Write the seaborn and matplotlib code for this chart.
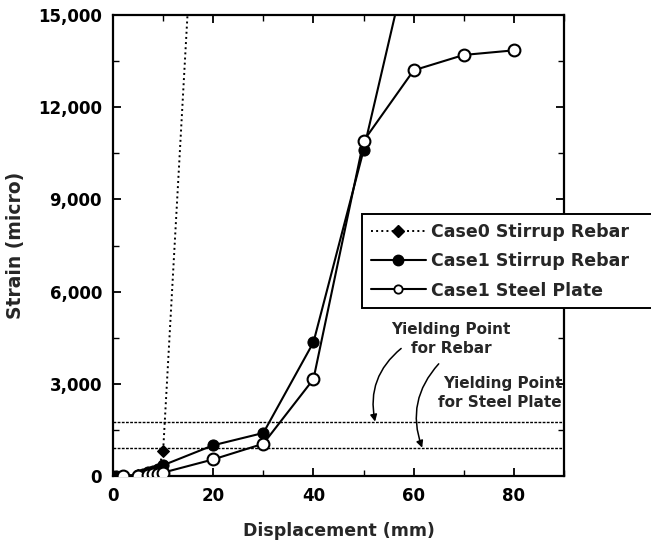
import matplotlib
matplotlib.use("Agg")
import matplotlib.pyplot as plt
import seaborn as sns
import pandas as pd
from matplotlib.ticker import FuncFormatter, MultipleLocator
from matplotlib.lines import Line2D

# ---- data ----
case0_x = [0, 5, 9, 10, 20]
case0_y = [0, 30, 150, 800, 30000]

case1_rebar_x = [0.5, 2, 5, 6, 7, 8, 9, 10, 20, 30, 40, 50, 60]
case1_rebar_y = [0, 10, 40, 80, 120, 170, 230, 350, 1000, 1400, 4350, 10600, 17600]

case1_plate_x = [2, 5, 7, 8, 9, 10, 20, 30, 40, 50, 60, 70, 80]
case1_plate_y = [0, 10, 30, 50, 70, 110, 540, 1050, 3150, 10900, 13200, 13700, 13850]

yield_rebar = 1750
yield_plate = 900

labels = ["Case0 Stirrup Rebar", "Case1 Stirrup Rebar", "Case1 Steel Plate"]

sns.set_style("ticks")
plt.rcParams["font.family"] = ["DejaVu Sans"]
plt.rcParams["font.weight"] = "bold"

fig = plt.figure(figsize=(6.51, 5.42), dpi=100)
ax = fig.add_axes([113/651, 1-476/542, (564-113)/651, (476-15)/542])

df0 = pd.DataFrame({"x": case0_x, "y": case0_y})
df1 = pd.DataFrame({"x": case1_rebar_x, "y": case1_rebar_y})
df2 = pd.DataFrame({"x": case1_plate_x, "y": case1_plate_y})

sns.lineplot(data=df0, x="x", y="y", ax=ax, sort=False, color="black",
             linestyle=":", linewidth=1.4, marker="D", markersize=6.5,
             markerfacecolor="black", markeredgecolor="black", zorder=3)
sns.lineplot(data=df1, x="x", y="y", ax=ax, sort=False, color="black",
             linestyle="-", linewidth=1.5, marker="o", markersize=8,
             markerfacecolor="black", markeredgecolor="black", zorder=4)
sns.lineplot(data=df2, x="x", y="y", ax=ax, sort=False, color="black",
             linestyle="-", linewidth=1.5, marker="o", markersize=8.5,
             markerfacecolor="white", markeredgecolor="black",
             markeredgewidth=1.5, zorder=5)

ax.axhline(yield_rebar, color="black", linestyle=(0, (2, 1)), linewidth=1.0, zorder=2)
ax.axhline(yield_plate, color="black", linestyle=(0, (2, 1)), linewidth=1.0, zorder=2)

ax.set_xlim(0, 90)
ax.set_ylim(0, 15000)
ax.xaxis.set_major_locator(MultipleLocator(20))
ax.xaxis.set_minor_locator(MultipleLocator(10))
ax.yaxis.set_major_locator(MultipleLocator(3000))
ax.yaxis.set_minor_locator(MultipleLocator(1500))
ax.yaxis.set_major_formatter(FuncFormatter(lambda v, p: f"{int(v):,}"))
ax.tick_params(which="both", direction="in", top=True, right=True,
               labelsize=12, colors="black")
ax.tick_params(which="major", length=6, width=1.3)
ax.tick_params(which="minor", length=4, width=1.0)
ax.tick_params(axis="y", which="major", pad=8)
ax.tick_params(axis="x", which="major", pad=8)
for s in ax.spines.values():
    s.set_linewidth(1.6)
    s.set_color("black")

ax.set_xlabel("Displacement (mm)", fontsize=12.5, labelpad=12, fontweight="bold")
ax.set_ylabel("Strain (micro)", fontsize=13.5, labelpad=9, fontweight="bold")

handles = [
    Line2D([], [], color="black", linestyle=":", linewidth=1.4, marker="D",
           markersize=6.5, markerfacecolor="black"),
    Line2D([], [], color="black", linestyle="-", linewidth=1.5, marker="o",
           markersize=7.5, markerfacecolor="black"),
    Line2D([], [], color="black", linestyle="-", linewidth=1.5, marker="o",
           markersize=6, markerfacecolor="white", markeredgewidth=1.3),
]
leg = ax.legend(handles, labels, loc="lower left",
                bbox_to_anchor=(0.552, 0.364, 0.66, 0.2), mode="expand",
                borderaxespad=0, frameon=True, fancybox=False,
                prop={"size": 12.5, "weight": "bold"},
                handlelength=3.2, handletextpad=0.3, labelspacing=0.66,
                borderpad=0.5)
leg.get_frame().set_edgecolor("black")
leg.get_frame().set_linewidth(1.4)
leg.get_frame().set_alpha(1)
leg.set_zorder(10)

ax.text(67.5, 4460, "Yielding Point\nfor Rebar", ha="center", va="center",
        fontsize=11, linespacing=1.3, fontweight="bold")
ax.text(89.6, 2700, "Yielding Point\nfor Steel Plate", ha="right", va="center",
        fontsize=11, linespacing=1.3, fontweight="bold")

ax.annotate("", xy=(52.3, yield_rebar + 20), xytext=(57.5, 4150),
            arrowprops=dict(arrowstyle="-|>", color="black", lw=1.1,
                            connectionstyle="arc3,rad=0.3", mutation_scale=10,
                            shrinkA=0, shrinkB=0))
ax.annotate("", xy=(61.7, yield_plate + 20), xytext=(65.0, 3650),
            arrowprops=dict(arrowstyle="-|>", color="black", lw=1.1,
                            connectionstyle="arc3,rad=0.3", mutation_scale=10,
                            shrinkA=0, shrinkB=0))

fig.savefig("out.png", dpi=100)
